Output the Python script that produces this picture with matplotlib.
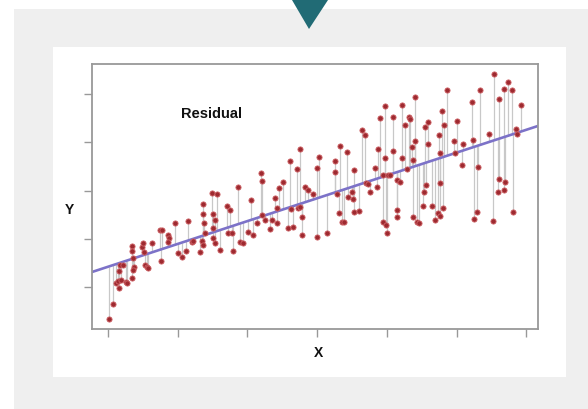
import numpy as np
import matplotlib
matplotlib.use("Agg")
import matplotlib.pyplot as plt
from matplotlib.patches import Rectangle, Polygon

#
# data (x in tick units 0..6, y in tick units 0..4)
#

x_values = [
  0.01, 0.07, 0.11, 0.14, 0.16, 0.19, 0.16, 0.17, 0.22, 0.26, 0.27, 0.34, 0.34, 0.34,
  0.36, 0.37, 0.36, 0.49, 0.50, 0.52, 0.53, 0.56, 0.57, 0.63, 0.75, 0.77, 0.76, 0.86,
  0.88, 0.86, 0.96, 1.00, 1.06,
  1.12, 1.15, 1.21, 1.22, 1.32, 1.35, 1.36, 1.36, 1.36, 1.38, 1.39, 1.49, 1.56, 1.51,
  1.54, 1.51, 1.51, 1.54, 1.61, 1.71, 1.75, 1.72, 1.78, 1.79, 1.87, 1.89, 1.94, 2.01,
  2.05, 2.08, 2.14, 2.20, 2.21, 2.21, 2.25, 2.32, 2.35, 2.40, 2.42, 2.42, 2.45, 2.51,
  2.58, 2.61, 2.63, 2.65, 2.71, 2.73,
  2.75, 2.75, 2.78, 2.78, 2.83, 2.87, 2.94, 3.00, 3.03, 3.00, 3.14, 3.26, 3.26, 3.29,
  3.31, 3.33, 3.36, 3.39, 3.43, 3.44, 3.50, 3.52, 3.53, 3.53, 3.60, 3.64, 3.69, 3.70,
  3.73, 3.76, 3.83, 3.86, 3.87, 3.90, 3.95, 3.95, 3.97, 3.97, 3.99, 4.00, 4.02, 4.05,
  4.09, 4.09, 4.15, 4.15, 4.15,
  4.19, 4.22, 4.22, 4.26, 4.29, 4.32, 4.33, 4.36, 4.38, 4.38, 4.40, 4.40, 4.43, 4.46,
  4.52, 4.53, 4.55, 4.56, 4.59, 4.59, 4.65, 4.69, 4.73, 4.76, 4.81, 4.75, 4.76, 4.76,
  4.79, 4.82, 4.86, 4.96, 4.98, 5.01, 5.08, 5.09, 5.22, 5.24, 5.25, 5.29, 5.31, 5.34,
  5.47, 5.52, 5.54, 5.61, 5.61, 5.60, 5.68, 5.70, 5.68, 5.74, 5.80, 5.81, 5.85, 5.87,
  5.93,
]

y_values = [
  -0.66, -0.35, 0.08, 0.12, -0.02, 0.15, 0.33, 0.46, 0.46, 0.10, 0.08, 0.19, 0.85, 0.75,
  0.60, 0.41, 0.35, 0.83, 0.91, 0.73, 0.46, 0.41, 0.39, 0.91, 1.18, 1.18, 0.54, 1.08,
  1.02, 0.93, 1.33, 0.70, 0.62,
  0.75, 1.37, 0.93, 0.95, 0.73, 0.95, 0.87, 1.72, 1.51, 1.33, 1.12, 1.95, 1.93, 1.51,
  1.39, 1.22, 1.02, 0.91, 0.77, 1.68, 1.60, 1.12, 1.12, 0.75, 2.07, 0.93, 0.91, 1.14,
  1.80, 1.08, 1.33, 2.36, 2.20, 1.49, 1.39, 1.20, 1.39, 1.84, 1.64, 1.33, 2.05, 2.18,
  1.22, 2.61, 1.62, 1.24, 2.45, 1.64,
  2.86, 1.66, 1.45, 1.08, 2.07, 2.01, 1.93, 2.47, 2.69, 1.04, 1.12, 2.61, 2.38, 1.93,
  1.53, 2.92, 1.35, 1.35, 2.80, 1.87, 1.97, 1.82, 2.42, 1.55, 1.58, 3.25, 3.15, 2.16,
  2.13, 1.97, 2.47, 2.07, 2.86, 3.50, 2.32, 1.35, 2.67, 3.75, 1.28, 1.12, 2.32, 2.32,
  2.82, 3.52, 2.22, 1.60, 1.45,
  2.18, 3.77, 2.67, 3.36, 2.45, 3.52, 3.48, 2.90, 2.63, 1.45, 3.94, 3.03, 1.35, 1.33,
  1.68, 1.97, 3.32, 2.11, 2.96, 3.42, 1.68, 1.39, 1.53, 1.47, 1.64, 3.15, 2.78, 2.16,
  3.65, 3.36, 4.08, 3.03, 2.78, 3.44, 2.53, 2.96, 3.83, 3.05, 1.41, 1.55, 2.49, 4.08,
  3.17, 1.37, 4.41, 3.90, 2.24, 1.97, 4.10, 2.18, 2.01, 4.25, 4.08, 1.55, 3.27, 3.17,
  3.77,
]

# fitted line
line_intercept = 0.42
line_slope = 0.473

x_ticks = [0, 1, 2, 3, 4, 5, 6]
y_ticks = [0, 1, 2, 3, 4]

#
#
#

X = np.array(x_values)
Y = np.array(y_values)
fitted = line_intercept + line_slope * X

fig = plt.figure(figsize=(5.88, 4.09), dpi=100)
fig.patch.set_facecolor('white')

# grey card, white inner card and the teal marker at the top
W, H = 588.0, 409.0
fig.patches.append(Rectangle((14 / W, 0), 1 - 14 / W, 1 - 9 / H, transform=fig.transFigure,
                             facecolor='#efefef', edgecolor='none', zorder=-3))
fig.patches.append(Rectangle((53 / W, 1 - 377 / H), (566 - 53) / W, (377 - 47) / H,
                             transform=fig.transFigure, facecolor='white', edgecolor='none', zorder=-2))
fig.patches.append(Polygon([(292 / W, 1.0), (328 / W, 1.0), (309 / W, 1 - 29 / H)], closed=True,
                           transform=fig.transFigure, facecolor='#216b75', edgecolor='none', zorder=-1))

ax = fig.add_axes([92 / W, 1 - 329 / H, (538 - 92) / W, (329 - 64) / H])
ax.set_zorder(5)
ax.set_facecolor('white')

# residual segments, regression line, points
ax.vlines(X, fitted, Y, colors='#c8c8c8', linewidth=0.9, zorder=1)
xl = np.array([-0.2296, 6.169])
ax.plot(xl, line_intercept + line_slope * xl, color='#7c72c8', linewidth=1.9, zorder=2)
ax.scatter(X, Y, s=14, facecolor='#9e2a30', edgecolor='#cf6468', linewidth=0.6, zorder=3)

ax.set_xlim(-0.2296, 6.169)
ax.set_ylim(-0.870, 4.622)
ax.set_xticks(x_ticks)
ax.set_yticks(y_ticks)
ax.set_xticklabels([])
ax.set_yticklabels([])
ax.tick_params(direction='out', length=5.8, width=1.0, color='#999999')
for sp in ax.spines.values():
  sp.set_color('#999999')
  sp.set_linewidth(1.3)

ax.text(1.49, 3.59, 'Residual', fontsize=10.5, fontweight='bold', family='Liberation Sans',
        ha='center', va='center', color='#111111')

fig.text(69 / W, 1 - 210 / H, 'Y', fontsize=10, fontweight='bold', family='Liberation Sans',
         ha='center', va='center', color='#111111')
fig.text(318 / W, 1 - 353 / H, 'X', fontsize=10, fontweight='bold', family='Liberation Sans',
         ha='center', va='center', color='#111111')

fig.savefig('out.png', dpi=100, facecolor=fig.get_facecolor())
